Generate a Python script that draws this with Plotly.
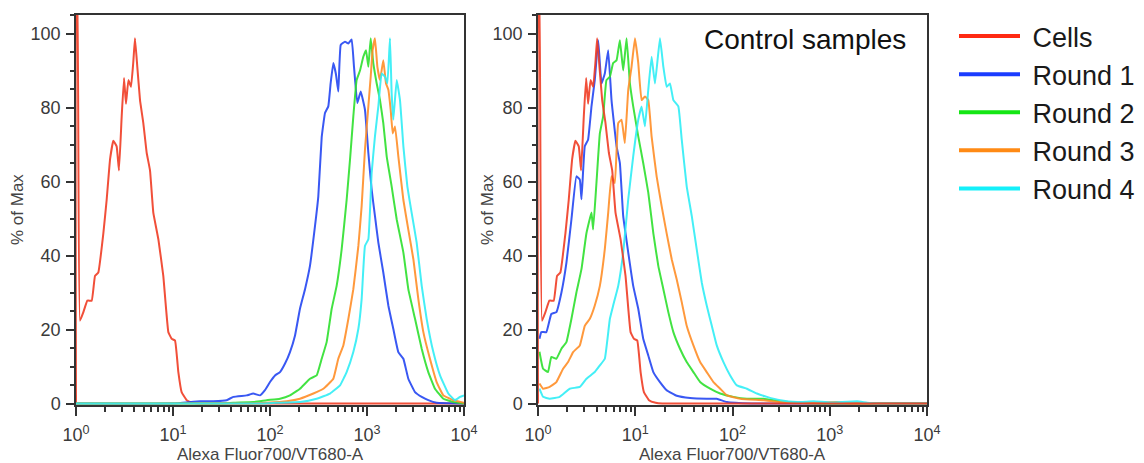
import numpy as np
import plotly.graph_objects as go

# ---------------- data (x stored as log10 of fluorescence intensity, y = % of Max) -------------
cells_log = [0.0, 0.006, 0.012, 0.041, 0.076, 0.117, 0.162, 0.196, 0.230, 0.282, 0.316, 0.351, 0.385,
             0.419, 0.443, 0.471, 0.495, 0.515, 0.540, 0.567, 0.591, 0.608, 0.632, 0.660, 0.694,
             0.729, 0.763, 0.797, 0.849, 0.900, 0.952, 0.986, 1.021, 1.055, 1.089, 1.141, 1.210,
             1.278, 2.0, 3.0, 4.0]
cells_pct = [0, 110, 110, 22.4, 24.7, 27.8, 27.8, 34.5, 35.4, 46, 55, 66, 71,
             69.5, 63, 77.6, 88, 81, 87.4, 85.6, 92.4, 98.7, 91, 82, 75.8,
             67.7, 63, 51.6, 44.4, 34.5, 19.3, 17.5, 17, 8.5, 3.1, 0.9, 0.2,
             0, 0, 0, 0]

# Left panel (selection rounds)
r1_log = [0.0, 1.0, 1.278, 1.416, 1.553, 1.622, 1.759, 1.828, 1.897, 1.948, 2.000, 2.052, 2.103, 2.155,
          2.206, 2.258, 2.309, 2.361, 2.412, 2.464, 2.498, 2.533, 2.567, 2.601, 2.625, 2.653,
          2.680, 2.704, 2.729, 2.773, 2.808, 2.842, 2.866, 2.900, 2.935, 2.979, 3.014, 3.048,
          3.082, 3.117, 3.168, 3.220, 3.271, 3.323, 3.375, 3.426, 3.495, 3.564, 3.632, 3.718, 4.0]
r1_pct = [0, 0, 0.6, 0.6, 0.9, 1.8, 2.2, 2.7, 2.2, 3.6, 5.8, 7.6, 8.5, 10.8,
          13.9, 18.4, 25.6, 30.9, 37.2, 48, 56, 72, 78.5, 80.3, 86.5, 92,
          89, 84.3, 96.9, 97.8, 97.3, 98.4, 91, 81.2, 84.3, 79.4, 67.7, 57.8,
          50.7, 43.5, 35.4, 26.5, 20.2, 13.9, 12.1, 6.7, 3.1, 1.8, 0.9, 0.2, 0]

r2_log = [0.0, 1.5, 1.622, 1.828, 1.966, 2.103, 2.206, 2.309, 2.412, 2.481, 2.533, 2.584, 2.636,
          2.687, 2.739, 2.790, 2.825, 2.859, 2.893, 2.928, 2.962, 2.990, 3.014, 3.038, 3.065,
          3.100, 3.134, 3.168, 3.203, 3.254, 3.306, 3.375, 3.426, 3.495, 3.564, 3.632, 3.701,
          3.787, 3.890, 4.0]
r2_pct = [0, 0, 0.2, 0.4, 0.9, 1.3, 2.2, 4, 6.7, 7.6, 12.1, 16.6, 25.6,
          31.8, 41.7, 55, 66, 77.6, 87.4, 90, 93.7, 95.5, 91, 98.7, 92,
          86.5, 82, 75.8, 66.8, 58.7, 49.8, 40.8, 30.9, 22.9, 14.8, 8.5, 4,
          1.3, 0.4, 0]

r3_log = [0.0, 1.8, 1.966, 2.172, 2.309, 2.447, 2.550, 2.653, 2.704, 2.756, 2.808, 2.859, 2.911,
          2.945, 2.979, 3.014, 3.038, 3.058, 3.082, 3.107, 3.134, 3.168, 3.196, 3.220, 3.244,
          3.265, 3.289, 3.323, 3.375, 3.426, 3.478, 3.529, 3.581, 3.649, 3.718, 3.787, 3.890, 4.0]
r3_pct = [0, 0, 0.2, 0.6, 1.3, 2.7, 4, 6.7, 12.1, 15.7, 22.9, 30.9, 42.6,
          53.4, 68.6, 80.3, 88.3, 95.5, 98.7, 91, 87.4, 92.8, 86.5, 84.8, 79.4,
          73, 74.9, 66.8, 55, 47, 39, 28.3, 19.3, 12.1, 5.8, 2.2, 0.9, 0.2]

r4_log = [0.0, 1.9, 2.069, 2.309, 2.481, 2.619, 2.722, 2.790, 2.859, 2.911, 2.945, 2.979, 3.014,
          3.048, 3.082, 3.117, 3.151, 3.186, 3.210, 3.237, 3.254, 3.271, 3.306, 3.340, 3.375,
          3.416, 3.460, 3.512, 3.564, 3.615, 3.684, 3.753, 3.838, 3.907, 3.959, 4.0]
r4_pct = [0, 0, 0.2, 0.4, 1.3, 2.7, 4.9, 8.5, 13.9, 20.2, 28.3, 42.6, 44.4,
          62.3, 72.2, 80.3, 89.2, 88.3, 86.5, 98.7, 83.9, 76.7, 87.4, 82, 69.5,
          58.7, 51.6, 43.5, 31.8, 22.9, 13.9, 7.6, 2.7, 0.9, 1.8, 2.2]

# Right panel (control samples)
c1_log = [0.015, 0.034, 0.086, 0.137, 0.189, 0.241, 0.292, 0.344, 0.395, 0.430, 0.447, 0.481, 0.515,
          0.550, 0.584, 0.619, 0.653, 0.687, 0.722, 0.756, 0.808, 0.842, 0.876, 0.928, 0.979,
          1.031, 1.082, 1.134, 1.186, 1.254, 1.323, 1.426, 1.564, 1.735, 1.838, 1.942, 2.2, 4.0]
c1_pct = [17.5, 19.3, 19.3, 24.2, 24.7, 30, 38, 49.8, 61.4, 60.5, 55.2, 69.5, 71.3,
          80.3, 87.4, 98.2, 86.5, 89.2, 95.5, 82, 69.5, 65, 50.7, 40.8, 31.8,
          25.6, 17.5, 13, 8.5, 5.8, 3.6, 2.1, 1.5, 1.3, 1.3, 0.4, 0, 0]

c2_log = [0.015, 0.052, 0.103, 0.137, 0.189, 0.241, 0.292, 0.344, 0.395, 0.447, 0.498, 0.550, 0.567,
          0.601, 0.636, 0.670, 0.704, 0.739, 0.773, 0.808, 0.842, 0.876, 0.911, 0.945, 0.979,
          1.031, 1.082, 1.134, 1.186, 1.237, 1.289, 1.340, 1.392, 1.460, 1.529, 1.598, 1.667,
          1.770, 1.873, 2.010, 2.148, 2.320, 2.491, 2.663, 2.9, 4.0]
c2_pct = [14, 9.4, 8.5, 12.6, 12.1, 14.8, 16.6, 22.9, 30, 36.3, 46, 51.6, 47,
          59.6, 73, 77.6, 87.4, 88.3, 92, 92.8, 98.2, 90, 98.7, 86.5, 80.3,
          72.2, 65, 57, 46, 37.2, 30.9, 24.7, 19.3, 14.8, 11.2, 8.5, 5.8,
          4, 2.7, 1.8, 1.3, 1.3, 0.6, 0.2, 0, 0]

c3_log = [0.015, 0.052, 0.120, 0.189, 0.258, 0.309, 0.361, 0.430, 0.481, 0.533, 0.584, 0.636, 0.687,
          0.722, 0.756, 0.790, 0.825, 0.859, 0.893, 0.928, 0.962, 0.997, 1.031, 1.065, 1.100,
          1.134, 1.168, 1.220, 1.271, 1.323, 1.375, 1.426, 1.478, 1.529, 1.598, 1.667, 1.735,
          1.804, 1.873, 1.942, 2.079, 2.320, 2.491, 2.835, 3.076, 3.179, 3.3, 4.0]
c3_pct = [5.4, 4, 4.5, 5.8, 9.4, 11.2, 13.9, 15.7, 21, 22.9, 26.5, 31.8, 41.7,
          51.6, 61.4, 59.6, 75.8, 76.7, 70.4, 84.8, 91, 98.7, 92, 82, 83,
          82, 72.2, 61.4, 53.4, 46, 39, 33.6, 27.4, 21, 15.7, 11.2, 8.5,
          5.8, 4, 2.2, 1.3, 0.9, 0.4, 0.2, 0.4, 0.1, 0, 0]

c4_log = [0.015, 0.052, 0.120, 0.223, 0.326, 0.430, 0.498, 0.584, 0.636, 0.687, 0.739, 0.773, 0.825,
          0.876, 0.928, 0.979, 1.031, 1.065, 1.100, 1.134, 1.168, 1.203, 1.254, 1.289, 1.323,
          1.357, 1.392, 1.443, 1.478, 1.529, 1.581, 1.632, 1.684, 1.735, 1.787, 1.838, 1.907,
          1.976, 2.045, 2.148, 2.251, 2.354, 2.491, 2.663, 2.835, 3.007, 3.282, 3.385, 3.5, 4.0]
c4_pct = [4, 1.8, 1.3, 1.8, 4, 4.5, 6.7, 8.5, 10.3, 12.1, 22.9, 26.5, 31.8,
          40.8, 55.2, 66.8, 76.7, 80.3, 74.9, 84.8, 93.7, 86.5, 98.7, 91, 85.6,
          86.5, 82, 80.3, 71.3, 58.7, 50.7, 41.7, 32.7, 26.5, 21, 15.7, 11.2,
          7.6, 4.9, 4, 2.7, 1.8, 0.9, 0.4, 0.6, 0.3, 0.6, 0.2, 0, 0]

series_names = ["Cells", "Round 1", "Round 2", "Round 3", "Round 4"]
x_tick_values = [1, 10, 100, 1000, 10000]
x_tick_labels = ["10<sup>0</sup>", "10<sup>1</sup>", "10<sup>2</sup>", "10<sup>3</sup>", "10<sup>4</sup>"]
y_tick_values = [0, 20, 40, 60, 80, 100]
x_title = "Alexa Fluor700/VT680-A"
y_title = "% of Max"
panel_label = "Control samples"

# ---------------- styling ----------------
FONT = "Liberation Sans, Arial, Helvetica, sans-serif"
line_colors = ["#f03c24", "#2446f2", "#2ee02e", "#ff8e28", "#30eef6"]
legend_colors = ["#ff2a12", "#1a3cff", "#14e614", "#ff8a14", "#14f0fa"]
AXC = "#333333"
# the page body adds an 8px margin, so the figure is laid out 8px smaller / shifted
OFF = 8
W, H = 1144 - OFF, 463 - OFF
L1, R1, L2, R2, TOP, BOT = 76 - OFF, 464 - OFF, 538 - OFF, 927 - OFF, 15 - OFF, 405 - OFF


def px_dom_x(a, b):
    return [a / W, b / W]


def px_dom_y(top, bottom):
    return [1 - bottom / H, 1 - top / H]


def px_x(v):
    return (v - OFF) / W


def px_y(v):
    return 1 - (v - OFF) / H


def lin(v):
    return list(np.power(10.0, np.array(v)))


fig = go.Figure()

left = [(cells_log, cells_pct), (r1_log, r1_pct), (r2_log, r2_pct), (r3_log, r3_pct), (r4_log, r4_pct)]
right = [(cells_log, cells_pct), (c1_log, c1_pct), (c2_log, c2_pct), (c3_log, c3_pct), (c4_log, c4_pct)]

for i, (xs, ys) in enumerate(left):
    fig.add_trace(go.Scatter(x=lin(xs), y=ys, mode="lines", name=series_names[i],
                             line=dict(color=line_colors[i], width=2, shape="spline", smoothing=0.3),
                             opacity=0.9, showlegend=False, xaxis="x", yaxis="y", hoverinfo="skip"))

# right panel: cells drawn last (on top)
for i in [1, 2, 3, 4, 0]:
    xs, ys = right[i]
    fig.add_trace(go.Scatter(x=lin(xs), y=ys, mode="lines", name=series_names[i],
                             line=dict(color=line_colors[i], width=2, shape="spline", smoothing=0.3),
                             opacity=0.9, showlegend=False, xaxis="x2", yaxis="y2", hoverinfo="skip"))

# legend entries
for i, nm in enumerate(series_names):
    fig.add_trace(go.Scatter(x=[None], y=[None], mode="lines", name="\u00a0" + nm,
                             line=dict(color=legend_colors[i], width=4),
                             showlegend=True, xaxis="x", yaxis="y"))

minor_x = [m * 10 ** d for d in range(4) for m in range(2, 10)]

xaxis_common = dict(type="log", range=[0, 4], showgrid=False, zeroline=False,
                    showline=True, linecolor=AXC, linewidth=1.5, mirror=True,
                    ticks="outside", ticklen=9, tickwidth=1.5, tickcolor=AXC,
                    tickmode="array", tickvals=x_tick_values, ticktext=x_tick_labels,
                    tickfont=dict(family=FONT, size=18, color="#3a3a3a"),
                    ticklabelstandoff=4,
                    minor=dict(tickmode="array", tickvals=minor_x, ticks="outside",
                               ticklen=5, tickwidth=1.5, tickcolor=AXC, showgrid=False),
                    automargin=False, layer="below traces", fixedrange=True)
yaxis_common = dict(range=[-0.4, 105], showgrid=False, zeroline=False,
                    showline=True, linecolor=AXC, linewidth=1.5, mirror=True,
                    ticks="outside", ticklen=8, tickwidth=1.5, tickcolor=AXC,
                    tickmode="array", tickvals=y_tick_values,
                    tickfont=dict(family=FONT, size=18, color="#3a3a3a"),
                    ticklabelstandoff=2,
                    minor=dict(dtick=5, tick0=0, ticks="outside", ticklen=4, tickwidth=1.5,
                               tickcolor=AXC, showgrid=False),
                    automargin=False, layer="below traces", fixedrange=True)

title_font = dict(family=FONT, size=17, color="#444")
annotations = [
    dict(text=panel_label, x=px_x(805), y=px_y(40), xref="paper", yref="paper",
         showarrow=False, xanchor="center", yanchor="middle",
         font=dict(family=FONT, size=28, color="#111")),
]
for (a, b) in [(76, 464), (538, 927)]:
    annotations.append(dict(text=x_title, x=px_x((a + b) / 2), y=px_y(454), xref="paper", yref="paper",
                            showarrow=False, xanchor="center", yanchor="middle", font=title_font))
for xc in [17, 487]:
    annotations.append(dict(text=y_title, x=px_x(xc), y=px_y(210), xref="paper", yref="paper",
                            showarrow=False, xanchor="center", yanchor="middle", textangle=-90,
                            font=title_font))

fig.update_layout(
    width=W, height=H,
    margin=dict(l=0, r=0, t=0, b=0, autoexpand=False),
    paper_bgcolor="white", plot_bgcolor="white",
    font=dict(family=FONT, color="#222"),
    xaxis=dict(xaxis_common, domain=px_dom_x(L1, R1), anchor="y"),
    yaxis=dict(yaxis_common, domain=px_dom_y(TOP, BOT), anchor="x"),
    xaxis2=dict(xaxis_common, domain=px_dom_x(L2, R2), anchor="y2"),
    yaxis2=dict(yaxis_common, domain=px_dom_y(TOP, BOT), anchor="x2"),
    legend=dict(x=px_x(954), y=px_y(12), xanchor="left", yanchor="top",
                font=dict(family=FONT, size=27, color="#1a1a1a"),
                itemwidth=61, bgcolor="rgba(0,0,0,0)", borderwidth=0,
                tracegroupgap=0),
    annotations=annotations,
    showlegend=True,
)

fig.write_html("out.html")
